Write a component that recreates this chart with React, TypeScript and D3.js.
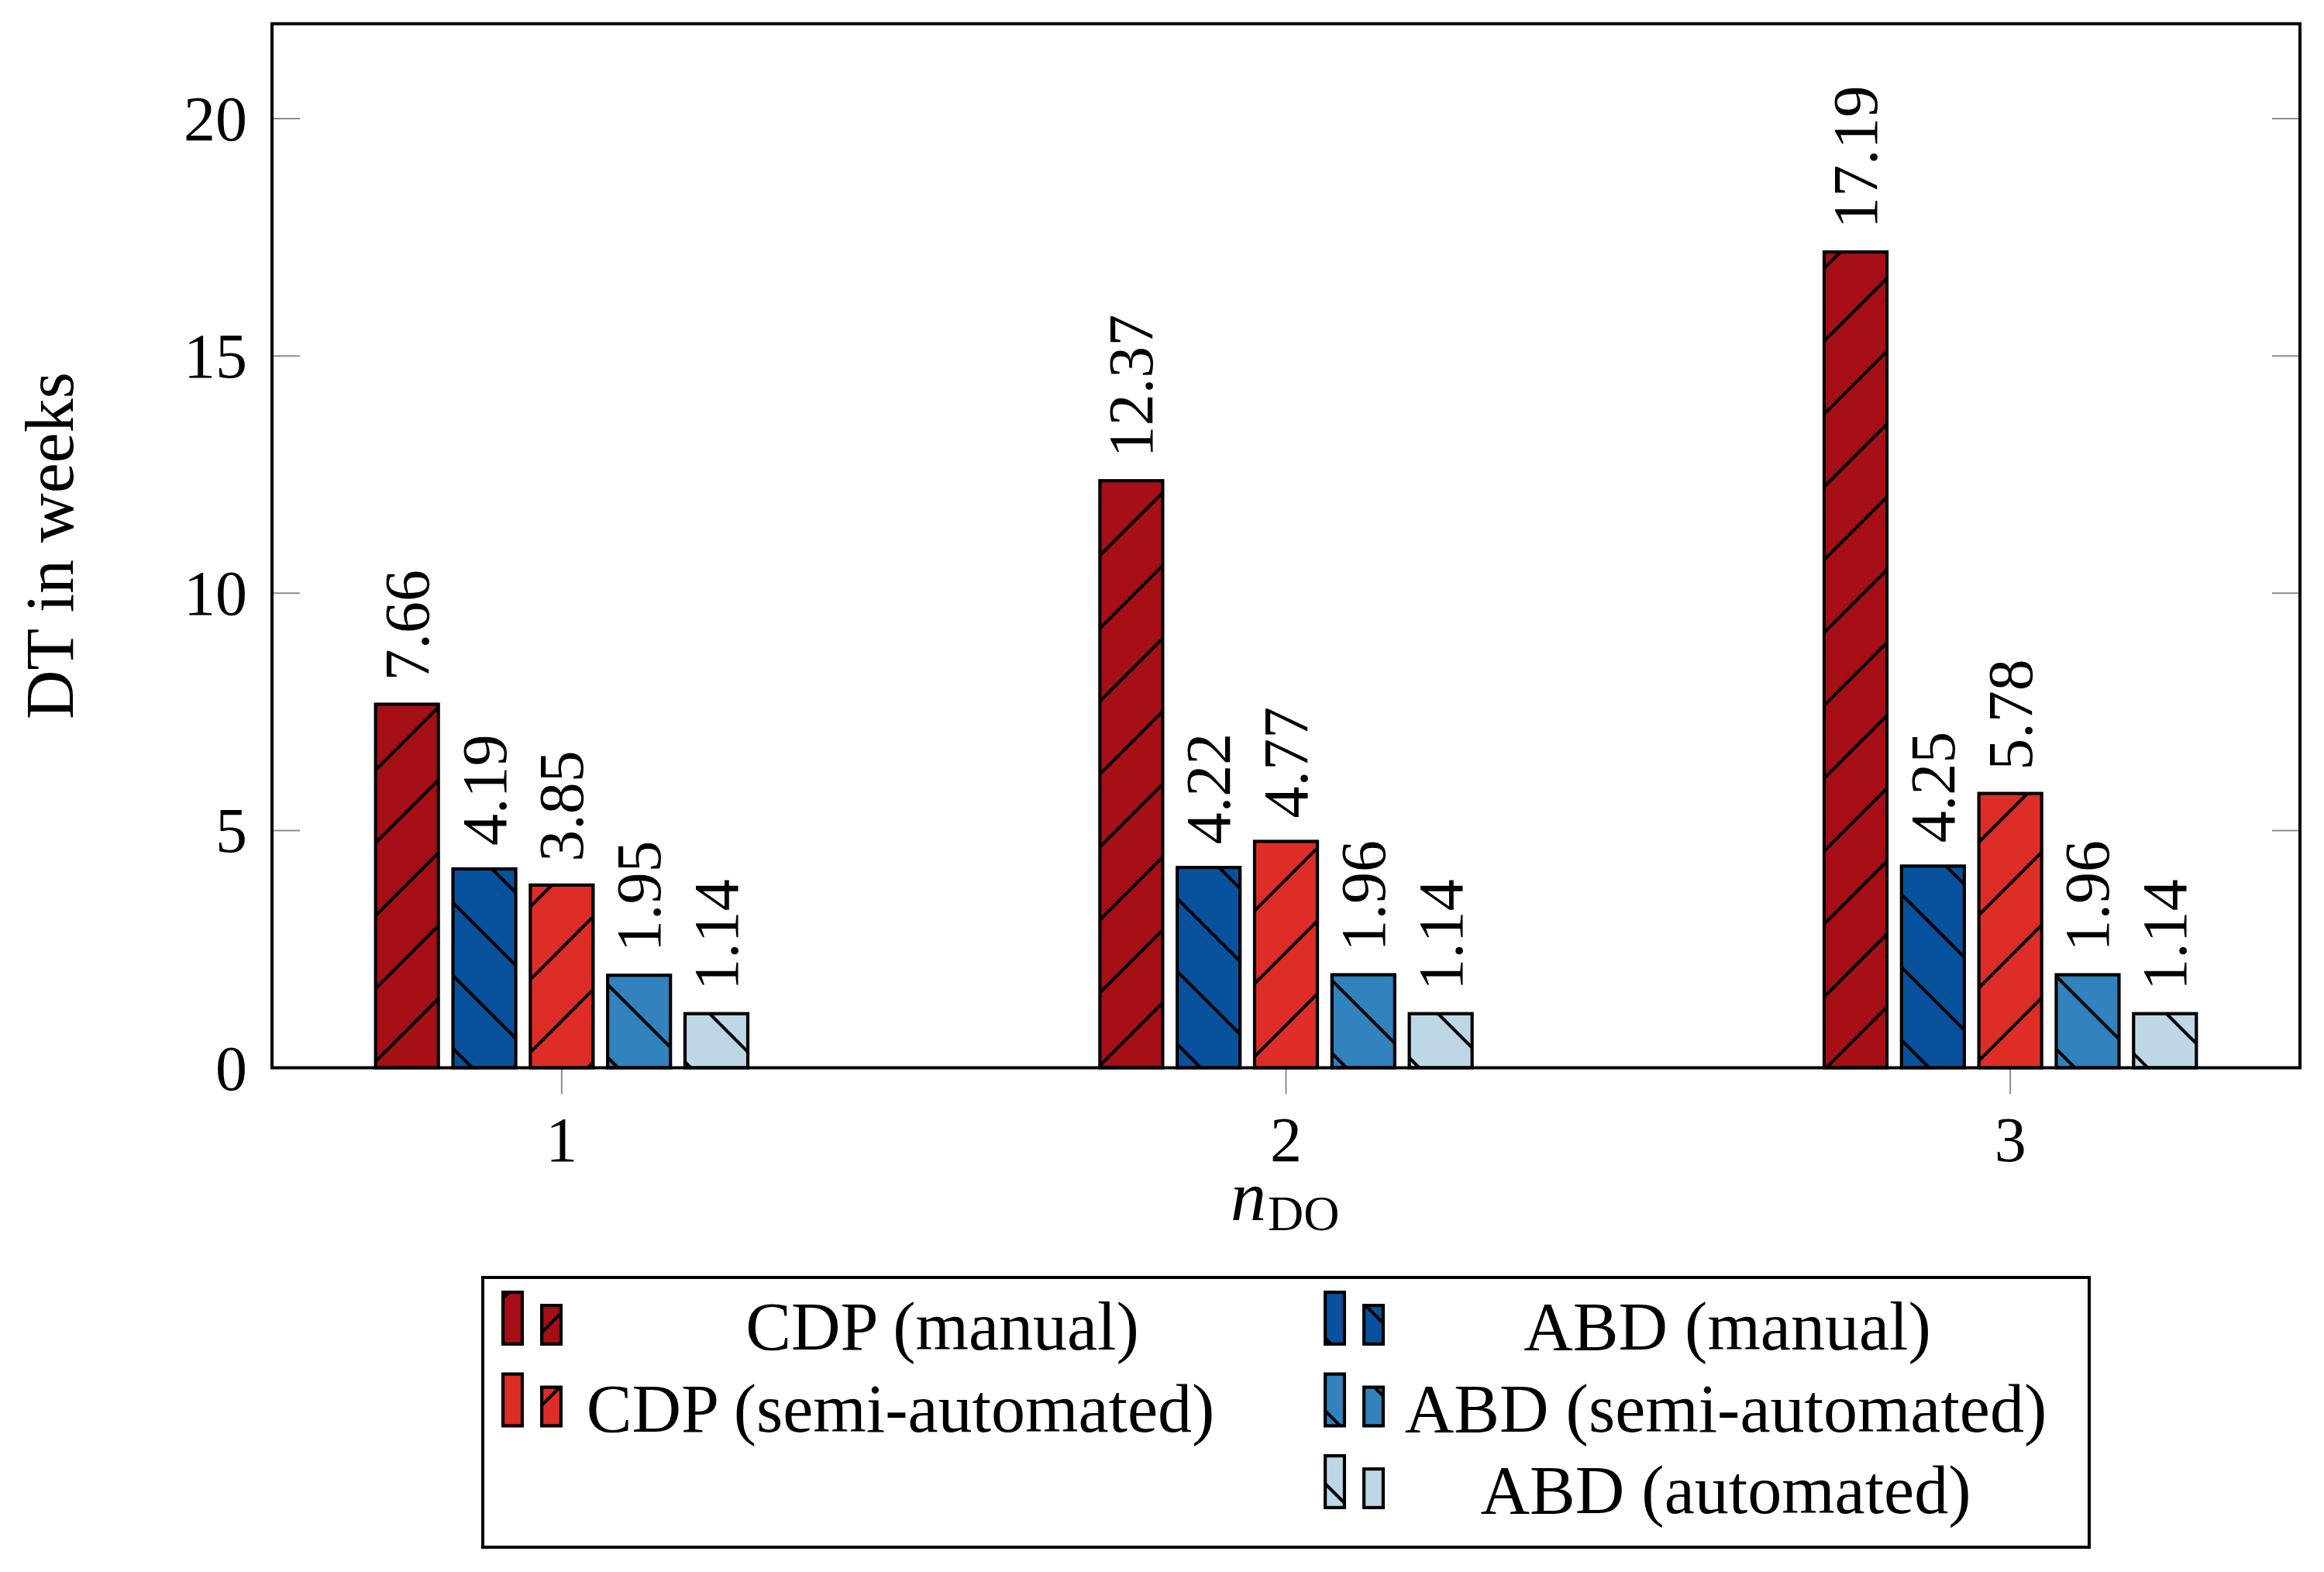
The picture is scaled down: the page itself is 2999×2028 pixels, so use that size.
import React from "react";
import * as d3 from "d3";

const categories = [1, 2, 3];
const seriesNames = [
  "CDP (manual)",
  "ABD (manual)",
  "CDP (semi-automated)",
  "ABD (semi-automated)",
  "ABD (automated)",
];
const cdpManual = [7.66, 12.37, 17.19];
const abdManual = [4.19, 4.22, 4.25];
const cdpSemi = [3.85, 4.77, 5.78];
const abdSemi = [1.95, 1.96, 1.96];
const abdAuto = [1.14, 1.14, 1.14];
const seriesValues = [cdpManual, abdManual, cdpSemi, abdSemi, abdAuto];
const seriesColors = ["#a50f15", "#08519c", "#de2d26", "#3182bd", "#bdd7e7"];
const seriesPattern = ["ne", "nw", "ne", "nw", "nw"];
const yTicks = [0, 5, 10, 15, 20];
const xTicks = [1, 2, 3];
// legend placement: [column, row] for each series (row-wise with an empty slot)
const legendSlots = [
  [0, 0],
  [1, 0],
  [0, 1],
  [1, 1],
  [1, 2],
];

const W = 2999;
const H = 2028;
const FONT = "'Liberation Serif', 'Times New Roman', serif";

export default function App() {
  const x = d3.scaleLinear().domain([0.6, 3.4]).range([351, 2968]);
  const y = d3.scaleLinear().domain([0, 22]).range([1377.5, 30.6]);
  const barShift = 0.1068;
  const barWidth = 0.0867;
  const sw = 4.2;
  const left = x.range()[0];
  const right = x.range()[1];
  const top = y.range()[1];
  const bottom = y.range()[0];
  const tickColor = "#8c8c8c";

  const legendColX = [
    [647, 697],
    [1708, 1758],
  ];
  const legendText = [
    { cx: 1216 },
    { cx: 2229 },
    { cx: 1162 },
    { cx: 2227 },
    { cx: 2227 },
  ];
  const rowStep = 105.5;

  return (
    <svg
      width={W}
      height={H}
      viewBox={`0 0 ${W} ${H}`}
      style={{ position: "absolute", left: 0, top: 0, background: "#fff" }}
      fontFamily={FONT}
    >
      <defs>
        <pattern
          id="ne"
          patternUnits="userSpaceOnUse"
          width={94}
          height={94}
          patternTransform="translate(68,0)"
        >
          <path
            d="M-10,10 L10,-10 M0,94 L94,0 M84,104 L104,84"
            stroke="#000"
            strokeWidth={sw}
          />
        </pattern>
        <pattern
          id="nw"
          patternUnits="userSpaceOnUse"
          width={94}
          height={94}
          patternTransform="translate(0,16)"
        >
          <path
            d="M0,0 L94,94 M-10,84 L10,104 M84,-10 L104,10"
            stroke="#000"
            strokeWidth={sw}
          />
        </pattern>
      </defs>
      <rect x={0} y={0} width={W} height={H} fill="#fff" />

      {/* y ticks (inward, both sides) */}
      {yTicks.map((t) => (
        <g key={"yt" + t}>
          <line x1={left} x2={left + 36} y1={y(t)} y2={y(t)} stroke={tickColor} strokeWidth={2} />
          <line x1={right - 36} x2={right} y1={y(t)} y2={y(t)} stroke={tickColor} strokeWidth={2} />
          <text
            x={left - 32}
            y={y(t) + 28}
            textAnchor="end"
            fontSize={82}
            fontFamily={FONT}
            fill="#000"
          >
            {t}
          </text>
        </g>
      ))}

      {/* x ticks */}
      {xTicks.map((t) => (
        <g key={"xt" + t}>
          <line x1={x(t)} x2={x(t)} y1={bottom} y2={bottom + 34} stroke={tickColor} strokeWidth={2} />
          <text x={x(t)} y={1498} textAnchor="middle" fontSize={82} fontFamily={FONT} fill="#000">
            {t}
          </text>
        </g>
      ))}

      {/* bars */}
      {seriesValues.map((vals, si) =>
        vals.map((v, ci) => {
          const c = categories[ci] + (si - 2) * barShift;
          const x0 = x(c - barWidth / 2);
          const x1 = x(c + barWidth / 2);
          const y0 = y(v);
          const cx = x(c);
          return (
            <g key={`b${si}-${ci}`}>
              <rect x={x0} y={y0} width={x1 - x0} height={bottom - y0} fill={seriesColors[si]} />
              <rect
                x={x0}
                y={y0}
                width={x1 - x0}
                height={bottom - y0}
                fill={`url(#${seriesPattern[si]})`}
                stroke="#000"
                strokeWidth={sw}
              />
              <text
                transform={`translate(${cx + 27.5},${y0 - 30}) rotate(-90)`}
                fontSize={82}
                fontFamily={FONT}
                fill="#000"
              >
                {v.toFixed(2)}
              </text>
            </g>
          );
        })
      )}

      {/* frame */}
      <rect
        x={left}
        y={top}
        width={right - left}
        height={bottom - top}
        fill="none"
        stroke="#000"
        strokeWidth={4}
      />

      {/* axis labels */}
      <text
        transform={`translate(94,${(top + bottom) / 2}) rotate(-90)`}
        textAnchor="middle"
        fontSize={88}
        fontFamily={FONT}
        fill="#000"
      >
        DT in weeks
      </text>
      <text x={1588} y={1574} fontSize={92} fontStyle="italic" fontFamily={FONT} fill="#000">
        n
      </text>
      <text x={1636} y={1587} fontSize={64} fontFamily={FONT} fill="#000">
        DO
      </text>

      {/* legend */}
      <rect x={623} y={1648} width={2073} height={348} fill="#fff" stroke="#000" strokeWidth={4} />
      {seriesNames.map((name, si) => {
        const [col, row] = legendSlots[si];
        const dy = row * rowStep;
        const [ax, bx] = legendColX[col];
        const iw = 29 - sw;
        return (
          <g key={"lg" + si}>
            {[
              { lx: ax, ty: 1665 + dy },
              { lx: bx, ty: 1682 + dy },
            ].map((ic, k) => (
              <g key={k}>
                <rect
                  x={ic.lx + sw / 2}
                  y={ic.ty + sw / 2}
                  width={iw}
                  height={1736 + dy - ic.ty - sw}
                  fill={seriesColors[si]}
                />
                <rect
                  x={ic.lx + sw / 2}
                  y={ic.ty + sw / 2}
                  width={iw}
                  height={1736 + dy - ic.ty - sw}
                  fill={`url(#${seriesPattern[si]})`}
                  stroke="#000"
                  strokeWidth={sw}
                />
              </g>
            ))}
            <text
              x={legendText[si].cx}
              y={1741 + dy}
              textAnchor="middle"
              fontSize={88}
              fontFamily={FONT}
              fill="#000"
            >
              {name}
            </text>
          </g>
        );
      })}
    </svg>
  );
}
